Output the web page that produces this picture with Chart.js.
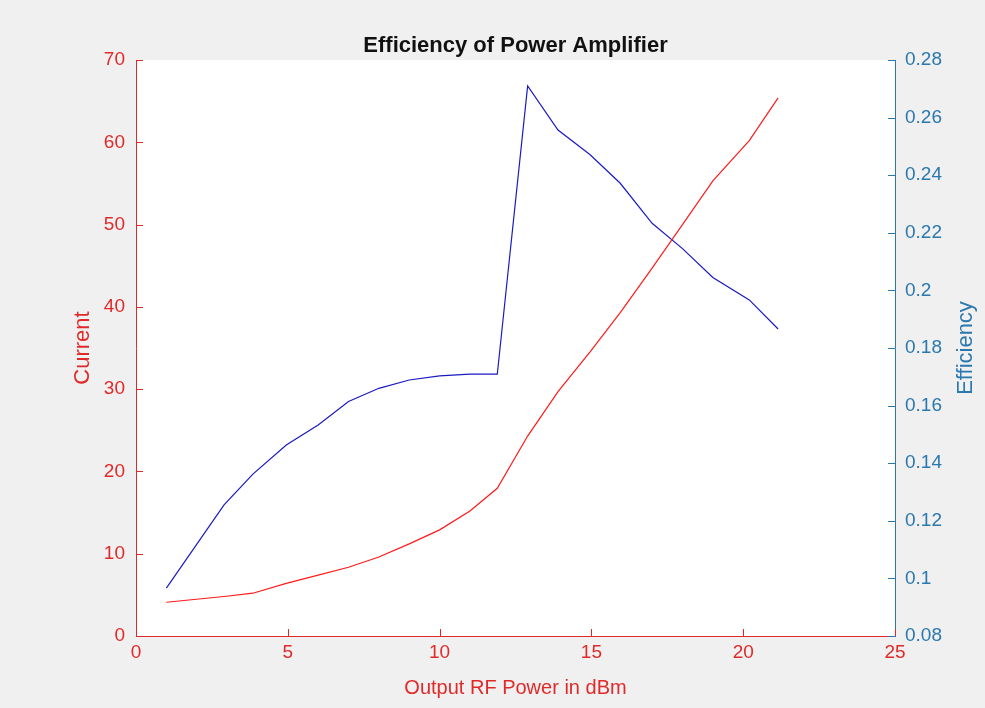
<!DOCTYPE html>
<html>
<head>
<meta charset="utf-8">
<title>Efficiency of Power Amplifier</title>
<script src="https://cdn.jsdelivr.net/npm/chart.js@4.4.1/dist/chart.umd.min.js"></script>
<style>
  html, body { margin: 0; padding: 0; background: #f0f0f0; }
  canvas { display: block; }
</style>
</head>
<body>
<canvas id="paChart" width="985" height="708"></canvas>
<script>
// output RF power (dBm)
const powerDbm = [1, 2.9, 3.85, 4.95, 6, 7, 8, 9, 10, 11, 11.9, 12.9, 13.9, 14.95, 15.95, 17, 18, 19, 20.2, 21.15];
const current = [4.1, 4.8, 5.2, 6.4, 7.4, 8.35, 9.6, 11.2, 12.9, 15.2, 17.95, 24.3, 29.7, 34.5, 39.3, 44.7, 50.0, 55.3, 60.2, 65.4];
const efficiency = [0.0966, 0.1255, 0.1362, 0.1463, 0.1533, 0.1614, 0.166, 0.1689, 0.1703, 0.1709, 0.1709,
                    0.271, 0.2557, 0.2472, 0.2372, 0.2233, 0.2145, 0.2045, 0.1967, 0.1866];

const xTicks = [0, 5, 10, 15, 20, 25];
const currentTicks = [0, 10, 20, 30, 40, 50, 60, 70];
const effTicks = [0.08, 0.1, 0.12, 0.14, 0.16, 0.18, 0.2, 0.22, 0.24, 0.26, 0.28];

const RED = "#e02a2a";
const BLUE = "#2a78ae";
const FONT = "'Liberation Sans', Arial, Helvetica, sans-serif";

function fixTicks(list) {
    return scale => { scale.ticks = list.map(v => ({ value: v })); };
}

// white plot area on the grey figure
const plotBackground = {
    id: "plotBackground",
    beforeDraw(chart) {
        const { ctx, chartArea: a } = chart;
        ctx.save();
        ctx.fillStyle = "#f0f0f0";
        ctx.fillRect(0, 0, chart.width, chart.height);
        ctx.fillStyle = "#ffffff";
        ctx.fillRect(a.left, a.top, a.right - a.left, a.bottom - a.top);
        ctx.restore();
    }
};

// matlab style ticks pointing into the axes, plus the right hand label
const innerTicks = {
    id: "innerTicks",
    afterDraw(chart) {
        const { ctx, chartArea: a, scales } = chart;
        const len = 7;
        ctx.save();
        ctx.lineWidth = 1;

        ctx.strokeStyle = RED;
        scales.x.ticks.forEach(t => {
            const px = Math.round(scales.x.getPixelForValue(t.value)) + 0.5;
            ctx.beginPath();
            ctx.moveTo(px, a.bottom);
            ctx.lineTo(px, a.bottom - len);
            ctx.stroke();
        });
        scales.y.ticks.forEach(t => {
            const py = Math.round(scales.y.getPixelForValue(t.value)) + 0.5;
            ctx.beginPath();
            ctx.moveTo(a.left, py);
            ctx.lineTo(a.left + len, py);
            ctx.stroke();
        });

        ctx.strokeStyle = BLUE;
        scales.y1.ticks.forEach(t => {
            const py = Math.round(scales.y1.getPixelForValue(t.value)) + 0.5;
            ctx.beginPath();
            ctx.moveTo(a.right, py);
            ctx.lineTo(a.right - len, py);
            ctx.stroke();
        });

        // "Efficiency" reads bottom to top like the left label
        ctx.fillStyle = BLUE;
        ctx.font = "22px " + FONT;
        ctx.textAlign = "center";
        ctx.textBaseline = "middle";
        ctx.translate(scales.y1.right - 19, (a.top + a.bottom) / 2);
        ctx.rotate(-Math.PI / 2);
        ctx.fillText("Efficiency", 0, 0);
        ctx.restore();
    }
};

new Chart(document.getElementById("paChart"), {
    type: "line",
    data: {
        datasets: [
            {
                label: "Current",
                data: powerDbm.map((p, i) => ({ x: p, y: current[i] })),
                yAxisID: "y",
                borderColor: "#ff1a1a",
                borderWidth: 1.2,
                pointRadius: 0,
                tension: 0
            },
            {
                label: "Efficiency",
                data: powerDbm.map((p, i) => ({ x: p, y: efficiency[i] })),
                yAxisID: "y1",
                borderColor: "#1a1ac4",
                borderWidth: 1.2,
                pointRadius: 0,
                tension: 0
            }
        ]
    },
    options: {
        responsive: false,
        devicePixelRatio: 1,
        animation: false,
        layout: { padding: 0 },
        plugins: {
            legend: { display: false },
            tooltip: { enabled: false },
            title: {
                display: true,
                fullSize: false, // centre over the plot, not the canvas
                text: "Efficiency of Power Amplifier",
                color: "#111111",
                font: { family: FONT, size: 22, weight: "bold", lineHeight: 1.2 },
                padding: { top: 33, bottom: 0.6 }
            }
        },
        scales: {
            x: {
                type: "linear",
                min: 0,
                max: 25,
                afterBuildTicks: fixTicks(xTicks),
                afterFit: s => { s.height = 72; },
                grid: { display: false, drawTicks: false },
                border: { display: true, color: RED, width: 1 },
                ticks: { color: RED, font: { family: FONT, size: 19 }, padding: 5, maxRotation: 0 },
                title: {
                    display: true,
                    text: "Output RF Power in dBm",
                    color: RED,
                    font: { family: FONT, size: 20, lineHeight: 1.2 },
                    padding: { top: 0, bottom: 8 }
                }
            },
            y: {
                type: "linear",
                position: "left",
                min: 0,
                max: 70,
                afterBuildTicks: fixTicks(currentTicks),
                afterFit: s => { s.width = 136; },
                grid: { display: false, drawTicks: false },
                border: { display: true, color: RED, width: 1 },
                ticks: { color: RED, font: { family: FONT, size: 19 }, padding: 11 },
                title: {
                    display: true,
                    text: "Current",
                    color: RED,
                    font: { family: FONT, size: 22, lineHeight: 1.2 },
                    padding: { top: 70, bottom: 0 }
                }
            },
            y1: {
                type: "linear",
                position: "right",
                min: 0.08,
                max: 0.28,
                afterBuildTicks: fixTicks(effTicks),
                afterFit: s => { s.width = 90; },
                grid: { display: false, drawTicks: false },
                border: { display: true, color: BLUE, width: 1 },
                ticks: {
                    color: BLUE,
                    font: { family: FONT, size: 19 },
                    padding: 10,
                    callback: v => String(+v.toFixed(2))
                },
                title: { display: false }
            }
        }
    },
    plugins: [plotBackground, innerTicks]
});
</script>
</body>
</html>
